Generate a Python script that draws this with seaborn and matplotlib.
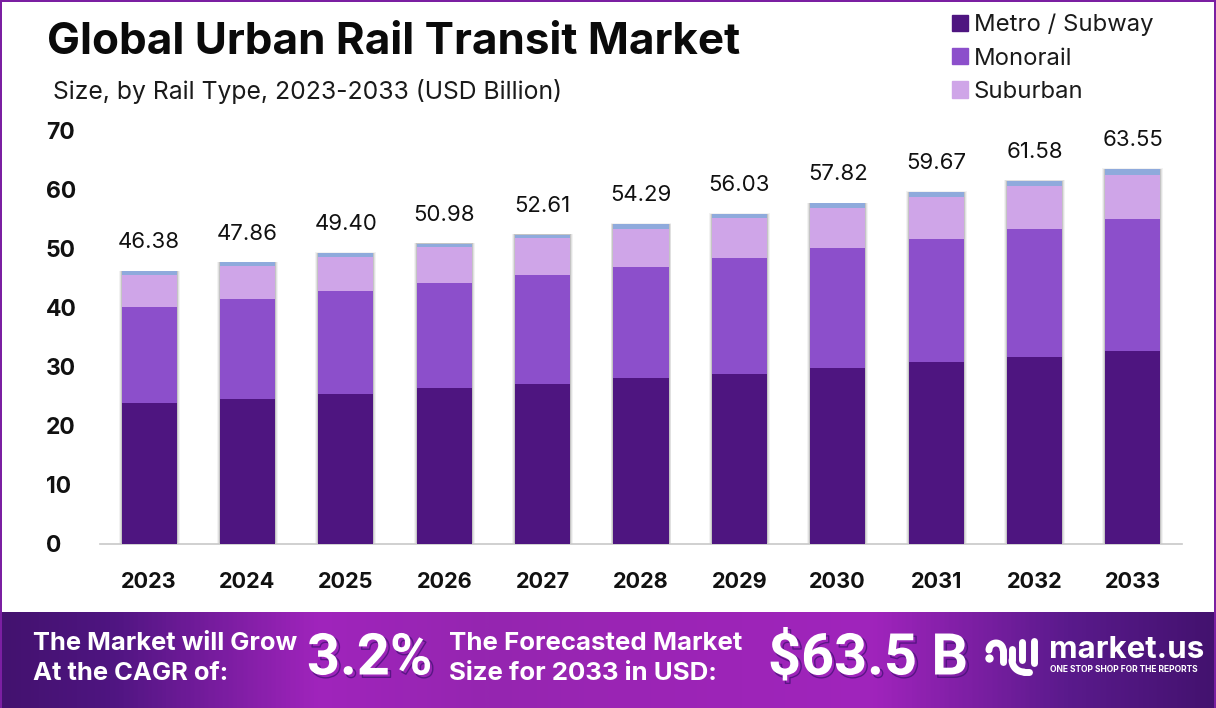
import numpy as np
import pandas as pd
import matplotlib
matplotlib.use('Agg')
import matplotlib.pyplot as plt
import matplotlib.patheffects as pe
from matplotlib.colors import LinearSegmentedColormap
from matplotlib.patches import Patch, Rectangle
import seaborn as sns

years = ['2023', '2024', '2025', '2026', '2027', '2028', '2029', '2030', '2031', '2032', '2033']
metro = [23.9, 24.6, 25.4, 26.3, 27.1, 28.0, 28.8, 29.7, 30.7, 31.7, 32.7]
monorail = [16.1, 16.8, 17.3, 17.8, 18.3, 18.9, 19.5, 20.3, 20.8, 21.5, 22.2]
suburban = [5.4, 5.6, 5.8, 6.1, 6.3, 6.3, 6.8, 6.8, 7.1, 7.3, 7.5]
others = [0.7, 0.6, 0.7, 0.6, 0.6, 0.9, 0.7, 0.8, 0.9, 0.9, 1.0]
totals = ['46.38', '47.86', '49.40', '50.98', '52.61', '54.29', '56.03', '57.82', '59.67', '61.58', '63.55']

series = [('Metro / Subway', metro, '#4E1580'),
          ('Monorail', monorail, '#8C4FCB'),
          ('Suburban', suburban, '#CFA5E8'),
          ('Others', others, '#8FAADC')]

sns.set_theme(style='white')
plt.rcParams['font.family'] = ['Inter', 'DejaVu Sans']

W, H = 1216, 708
fig = plt.figure(figsize=(W / 100, H / 100), dpi=100)

# main plot, pixel box from the reference
ax = fig.add_axes([100 / W, 1 - 544 / H, 1082 / W, 414 / H])
df = pd.DataFrame({'year': years})
bottom = np.zeros(len(years))
for name, vals, col in series:
    df['v'] = vals
    sns.barplot(data=df, x='year', y='v', bottom=bottom, color=col, width=0.56,
                saturation=1, ax=ax, zorder=3)
    bottom = bottom + np.array(vals)

for p in ax.patches:
    p.set_linewidth(0)
# soft grey edge behind each whole bar
for i, top in enumerate(bottom):
    for w, a in [(0.62, 0.05), (0.60, 0.07), (0.58, 0.12)]:
        ax.bar(i, top + (w - 0.56) * 2, width=w, color='#000000', alpha=a, zorder=2, linewidth=0)
    ax.text(i, top + 4.9, totals[i], ha='center', va='center', fontsize=16, color='#111111')

ax.set_xlim(-0.5, 10.5)
ax.set_ylim(0, 70)
ax.set_yticks(range(0, 71, 10))
ax.set_xlabel('')
ax.set_ylabel('')
sns.despine(ax=ax, left=True)
ax.spines['bottom'].set_color('#c8c8c8')
ax.spines['bottom'].set_linewidth(1.2)
ax.tick_params(axis='x', length=0, pad=20, labelsize=15.6, labelcolor='#111111')
ax.tick_params(axis='y', length=0, pad=0, labelsize=16.5, labelcolor='#111111')
for t in ax.get_xticklabels() + ax.get_yticklabels():
    t.set_fontweight('bold')
for t in ax.get_yticklabels():
    t.set_horizontalalignment('left')
    t.set_x(-0.05)

fig.text(47 / W, 1 - 43 / H, 'Global Urban Rail Transit Market', fontsize=31.7, fontweight='bold',
         color='#0a0a0a', va='center', ha='left')
fig.text(53 / W, 1 - 92 / H, 'Size, by Rail Type, 2023-2033 (USD Billion)', fontsize=17.8,
         color='#1a1a1a', va='center', ha='left')

handles = [Patch(color=c, label=n) for n, v, c in series[:3]]
fig.legend(handles=handles, loc='upper left', bbox_to_anchor=(952 / W, 1 - 14 / H), frameon=False,
           fontsize=17.2, handlelength=0.67, handleheight=0.67, handletextpad=0.25,
           labelspacing=0.47, labelcolor='#1a1a1a', borderpad=0, borderaxespad=0)

# purple frame around the chart area
frame = '#7B1FA2'
fig.add_artist(Rectangle((0, 0), 2 / W, 1, transform=fig.transFigure, color=frame, lw=0))
fig.add_artist(Rectangle((1 - 2 / W, 0), 2 / W, 1, transform=fig.transFigure, color=frame, lw=0))
fig.add_artist(Rectangle((0, 1 - 2 / H), 1, 2 / H, transform=fig.transFigure, color=frame, lw=0))

# footer banner with gradient
bax = fig.add_axes([0, 0, 1, 96 / H])
cmap = LinearSegmentedColormap.from_list('banner', [(0, '#43126F'), (0.09, '#4F1581'), (0.26, '#A024BC'),
                                                    (0.4, '#9526B0'), (0.5, '#9A25B4'), (0.72, '#A024BC'),
                                                    (0.88, '#5A1A8C'), (1, '#43126F')])
bax.imshow(np.linspace(0, 1, 600).reshape(1, -1), aspect='auto', cmap=cmap, extent=(0, W, 708, 612))
bax.set_xlim(0, W)
bax.set_ylim(708, 612)
bax.axis('off')

bax.text(33, 643, 'The Market will Grow', color='white', fontsize=18.4, fontweight='bold', va='center')
bax.text(33, 674, 'At the CAGR of:', color='white', fontsize=18.4, fontweight='bold', va='center')
bax.text(449, 643, 'The Forecasted Market', color='white', fontsize=18.6, fontweight='bold', va='center')
bax.text(449, 674, 'Size for 2033 in USD:', color='white', fontsize=18.6, fontweight='bold', va='center')
t1 = bax.text(307, 659, '3.2%', color='white', fontsize=41.5, fontweight='bold', va='center', family='Roboto')
t2 = bax.text(768, 659, '$63.5 B', color='white', fontsize=41.5, fontweight='bold', va='center', family='Roboto')
for t in (t1, t2):
    t.set_path_effects([pe.SimpleLineShadow(offset=(2, -2), shadow_color='#3d1070', alpha=0.7, linewidth=1), pe.Normal()])

# logo
kw = dict(color='white', lw=5, solid_capstyle='round', zorder=4)
a = np.linspace(np.pi, 0, 30)
bax.plot([989], [658], marker='o', ms=6, mew=0, color='white', zorder=4)
bax.plot(996 + 7 * np.cos(a), 650 - 7 * np.sin(a), **kw)
bax.plot([1003, 1003], [650, 662], **kw)
a2 = np.linspace(np.pi, np.pi / 2, 20)
bax.plot(1024 + 12 * np.cos(a2), 660 + 12 * np.sin(a2), **kw)
bax.plot([1012, 1012], [649, 660], **kw)
bax.plot([1024, 1029], [672, 672], **kw)
bax.plot([1022, 1022], [642, 660], **kw)
bax.plot([1034, 1034], [641, 663], **kw)
bax.text(1049, 658.5, 'market.us', color='white', fontsize=22.5, fontweight='bold', va='baseline')
bax.text(1050, 670, 'ONE STOP SHOP FOR THE REPORTS', color='white', fontsize=6.1, fontweight='bold', va='center')

fig.savefig('out.png', dpi=100)
